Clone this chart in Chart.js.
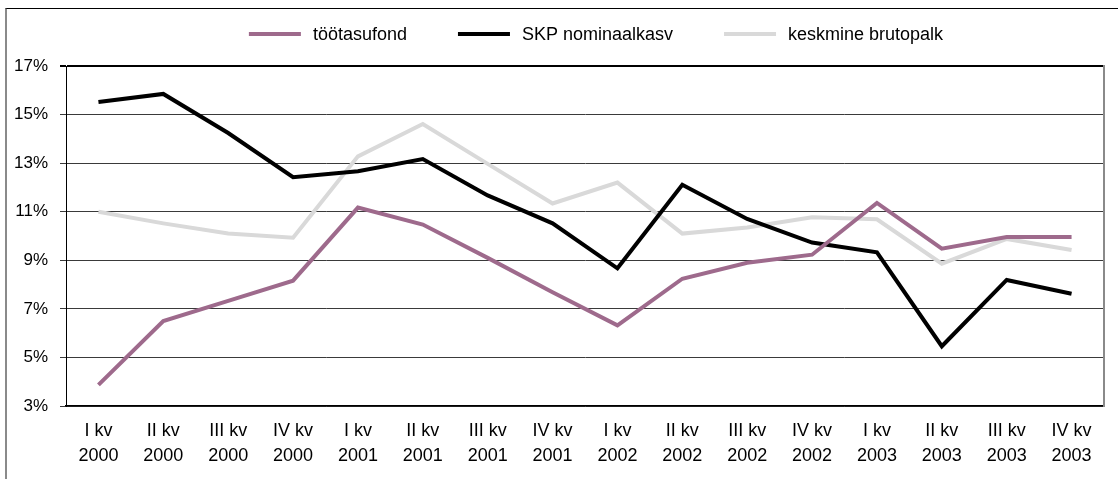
<!DOCTYPE html>
<html>
<head>
<meta charset="utf-8">
<script src="https://cdn.jsdelivr.net/npm/chart.js@4.4.1/dist/chart.umd.min.js"></script>
<style>
  html, body { margin: 0; padding: 0; background: #fff; }
  #wrap { position: relative; width: 1118px; height: 479px; overflow: hidden; background: #fff; }
  #frame { position: absolute; left: 5px; top: 8px; width: 1300px; height: 700px;
           border-left: 2px solid #8a8a8a; border-top: 1px solid #000; }
  #c { position: absolute; left: 0; top: 0; }
</style>
</head>
<body>
<div id="wrap">
  <div id="frame"></div>
  <canvas id="c" width="1118" height="479"></canvas>
</div>
<script>
// ---- data ----
const categories = [
  ["I kv", "2000"], ["II kv", "2000"], ["III kv", "2000"], ["IV kv", "2000"],
  ["I kv", "2001"], ["II kv", "2001"], ["III kv", "2001"], ["IV kv", "2001"],
  ["I kv", "2002"], ["II kv", "2002"], ["III kv", "2002"], ["IV kv", "2002"],
  ["I kv", "2003"], ["II kv", "2003"], ["III kv", "2003"], ["IV kv", "2003"]
];
const seriesNames = ["töötasufond", "SKP nominaalkasv", "keskmine brutopalk"];
const tootasufond = [3.87, 6.5, 7.33, 8.16, 11.17, 10.47, 9.1, 7.68, 6.32, 8.24, 8.9, 9.23, 11.36, 9.48, 9.96, 9.96];
const skpNominaalkasv = [15.52, 15.85, 14.24, 12.42, 12.67, 13.17, 11.67, 10.52, 8.67, 12.11, 10.7, 9.73, 9.33, 5.46, 8.19, 7.62];
const keskmineBrutopalk = [11.0, 10.52, 10.1, 9.93, 13.28, 14.61, 12.97, 11.34, 12.2, 10.1, 10.35, 10.77, 10.69, 8.86, 9.88, 9.42];
const yMin = 3, yMax = 17, yStep = 2;

// ---- styles ----
const FONT = '"Liberation Sans", Arial, Helvetica, sans-serif';
const colors = ["#9e6a8c", "#000000", "#d9d9d9"];

const topLegend = {
  id: 'topLegend',
  afterDraw(chart) {
    const ctx = chart.ctx;
    ctx.save();
    ctx.font = '18px ' + FONT;
    const lineW = 52, gapText = 12, gapItem = 51, cy = 34, cx = 596;
    const items = chart.data.datasets.map(ds => ({
      label: ds.label, color: ds.borderColor, w: ctx.measureText(ds.label).width
    }));
    const total = items.reduce((s, it) => s + lineW + gapText + it.w, 0) + gapItem * (items.length - 1);
    let x = cx - total / 2;
    ctx.textBaseline = 'middle';
    ctx.textAlign = 'left';
    items.forEach(it => {
      ctx.strokeStyle = it.color;
      ctx.lineWidth = 4;
      ctx.beginPath();
      ctx.moveTo(x, cy);
      ctx.lineTo(x + lineW, cy);
      ctx.stroke();
      ctx.fillStyle = '#000';
      ctx.fillText(it.label, x + lineW + gapText, cy + 1);
      x += lineW + gapText + it.w + gapItem;
    });
    ctx.restore();
  }
};

const mkDs = (label, data, color) => ({
  label, data, borderColor: color, backgroundColor: color,
  borderWidth: 4, pointRadius: 0, pointHoverRadius: 0, tension: 0, fill: false,
  borderJoinStyle: 'miter', borderCapStyle: 'butt'
});

new Chart(document.getElementById('c'), {
  type: 'line',
  data: {
    labels: categories,
    datasets: [
      mkDs(seriesNames[0], tootasufond, colors[0]),
      mkDs(seriesNames[1], skpNominaalkasv, colors[1]),
      mkDs(seriesNames[2], keskmineBrutopalk, colors[2])
    ]
  },
  options: {
    responsive: false,
    animation: false,
    devicePixelRatio: 1,
    layout: { padding: { top: 66, right: 14, bottom: 0, left: 0 } },
    plugins: { legend: { display: false }, tooltip: { enabled: false } },
    scales: {
      x: {
        offset: true,
        grid: { display: false, drawTicks: false },
        border: { display: true, color: '#000', width: 1.5 },
        ticks: {
          color: '#000', padding: 13, maxRotation: 0, autoSkip: false,
          font: { family: FONT, size: 18, lineHeight: 1.39 }
        },
        afterFit(scale) { scale.height = 73; }
      },
      y: {
        min: yMin, max: yMax,
        border: { display: true, color: '#000', width: 1 },
        grid: {
          color: ctx => (ctx.tick && ctx.tick.value === yMax) ? '#000' : '#3a3a3a',
          lineWidth: ctx => (ctx.tick && ctx.tick.value === yMax) ? 2 : 1,
          tickLength: 6, drawTicks: true
        },
        ticks: {
          stepSize: yStep, padding: 12, color: '#000',
          font: { family: FONT, size: 17 },
          callback: v => v + '%'
        },
        afterFit(scale) { scale.width = 66; }
      },
      yRight: {
        position: 'right', min: yMin, max: yMax,
        border: { display: true, color: '#8a8a8a', width: 2 },
        grid: { display: false, drawTicks: false },
        ticks: { display: false },
        afterFit(scale) { scale.width = 0; }
      }
    }
  },
  plugins: [topLegend]
});
</script>
</body>
</html>
